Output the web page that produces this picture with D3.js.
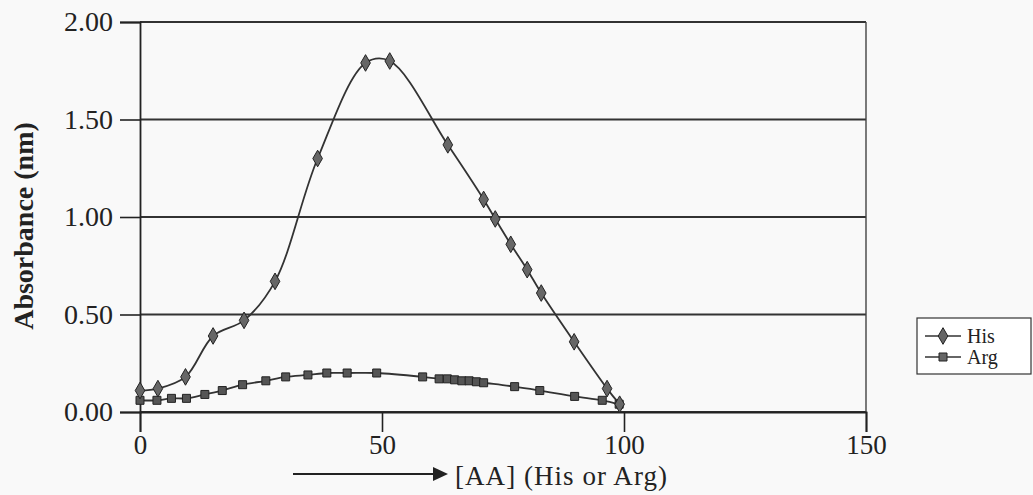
<!DOCTYPE html>
<html>
<head>
<meta charset="utf-8">
<script src="https://cdn.jsdelivr.net/npm/d3@7"></script>
<style>
  body { margin: 0; background: #f9f9f9; }
  svg { display: block; }
  text { font-family: "Liberation Serif", "Times New Roman", serif; fill: #222; }
</style>
</head>
<body>
<svg width="1033" height="495"></svg>
<script>
// values
const hisX = [0, 3.7, 9.4, 15.1, 21.5, 27.9, 36.7, 46.6, 51.6, 63.6, 71, 73.4, 76.6, 80, 82.9, 89.7, 96.5, 99.1];
const hisY = [0.11, 0.12, 0.18, 0.39, 0.47, 0.67, 1.30, 1.79, 1.80, 1.37, 1.09, 0.99, 0.86, 0.73, 0.61, 0.36, 0.12, 0.04];

const argX = [0, 3.5, 6.5, 9.6, 13.4, 17, 21.2, 26, 30.1, 34.7, 38.6, 42.8, 48.9, 58.4, 61.8, 63.5, 65, 66.5, 68, 69.5, 71, 77.4, 82.6, 89.8, 95.5, 99];
const argY = [0.06, 0.06, 0.07, 0.07, 0.09, 0.11, 0.14, 0.16, 0.18, 0.19, 0.20, 0.20, 0.20, 0.18, 0.17, 0.17, 0.165, 0.16, 0.16, 0.155, 0.15, 0.13, 0.11, 0.08, 0.06, 0.04];

const xTicks = [0, 50, 100, 150];
const yTicks = [0, 0.5, 1.0, 1.5, 2.0];
const seriesNames = ["His", "Arg"];

const svg = d3.select("svg");
const margin = {top: 22, right: 167, bottom: 83, left: 140},
      width = 1033 - margin.left - margin.right,
      height = 495 - margin.top - margin.bottom;

const g = svg.append("g")
    .attr("transform", `translate(${margin.left},${margin.top})`);

const x = d3.scaleLinear().domain([0, 150]).range([0, width]);
const y = d3.scaleLinear().domain([0, 2]).range([height, 0]);

// horizontal gridlines
g.selectAll(".grid")
    .data(yTicks)
    .enter().append("line")
    .attr("x1", 0).attr("x2", width)
    .attr("y1", d => y(d)).attr("y2", d => y(d))
    .attr("stroke", "#333").attr("stroke-width", 1.8);

// right frame
g.append("line")
    .attr("x1", width).attr("x2", width)
    .attr("y1", 0).attr("y2", height)
    .attr("stroke", "#444").attr("stroke-width", 1.4);

const yAxis = g.append("g")
    .call(d3.axisLeft(y).tickValues(yTicks).tickFormat(d3.format(".2f")).tickSize(20).tickPadding(7));
yAxis.select(".domain").attr("stroke", "#222").attr("stroke-width", 1.8);
yAxis.selectAll(".tick line").attr("stroke", "#222").attr("stroke-width", 1.6);
yAxis.selectAll("text")
    .style("font-family", "Liberation Serif")
    .style("font-size", "28px").attr("fill", "#222");

const xAxis = g.append("g")
    .attr("transform", `translate(0,${height})`)
    .call(d3.axisBottom(x).tickValues(xTicks).tickSize(20).tickPadding(3));
xAxis.select(".domain").attr("stroke", "#222").attr("stroke-width", 1.8);
xAxis.selectAll(".tick line").attr("stroke", "#222").attr("stroke-width", 1.6);
xAxis.selectAll("text")
    .style("font-family", "Liberation Serif")
    .style("font-size", "27px").attr("fill", "#222");

// axis titles
svg.append("text")
    .attr("transform", "translate(33,226) rotate(-90)")
    .attr("text-anchor", "middle")
    .style("font-size", "28px")
    .style("font-weight", "bold")
    .text("Absorbance (nm)");

svg.append("line")
    .attr("x1", 293).attr("x2", 436)
    .attr("y1", 474).attr("y2", 474)
    .attr("stroke", "#222").attr("stroke-width", 1.8);
svg.append("path")
    .attr("d", "M433,467 L448,474 L433,481 Z")
    .attr("fill", "#222");
svg.append("text")
    .attr("x", 455).attr("y", 485)
    .style("font-size", "27px")
    .attr("textLength", 212)
    .text("[AA] (His or Arg)");

const line = d3.line()
    .x(d => x(d[0]))
    .y(d => y(d[1]))
    .curve(d3.curveCatmullRom.alpha(0.5));

const his = hisX.map((v, i) => [v, hisY[i]]);
const arg = argX.map((v, i) => [v, argY[i]]);

[arg, his].forEach(s => {
    g.append("path")
        .datum(s)
        .attr("fill", "none")
        .attr("stroke", "#333")
        .attr("stroke-width", 1.8)
        .attr("d", line);
});

const diamond = d3.symbol().type(d3.symbolDiamond).size(80);
const square = d3.symbol().type(d3.symbolSquare).size(64);

g.selectAll(".arg")
    .data(arg)
    .enter().append("path")
    .attr("transform", d => `translate(${x(d[0])},${y(d[1])})`)
    .attr("d", square)
    .attr("fill", "#555").attr("stroke", "#222").attr("stroke-width", 1);

g.selectAll(".his")
    .data(his)
    .enter().append("path")
    .attr("transform", d => `translate(${x(d[0])},${y(d[1])})`)
    .attr("d", diamond)
    .attr("fill", "#666").attr("stroke", "#222").attr("stroke-width", 1);

// legend
const lg = svg.append("g").attr("transform", "translate(917,318)");
lg.append("rect")
    .attr("width", 114).attr("height", 56)
    .attr("fill", "#fff").attr("stroke", "#333").attr("stroke-width", 1.2);
const shapes = [diamond, square];
seriesNames.forEach((name, i) => {
    const ly = 18 + i * 21;
    lg.append("line")
        .attr("x1", 8).attr("x2", 44)
        .attr("y1", ly).attr("y2", ly)
        .attr("stroke", "#333").attr("stroke-width", 1.6);
    lg.append("path")
        .attr("transform", `translate(26,${ly})`)
        .attr("d", shapes[i])
        .attr("fill", "#666").attr("stroke", "#222");
    lg.append("text")
        .attr("x", 50).attr("y", ly + 7)
        .style("font-size", "20px")
        .text(name);
});
</script>
</body>
</html>
